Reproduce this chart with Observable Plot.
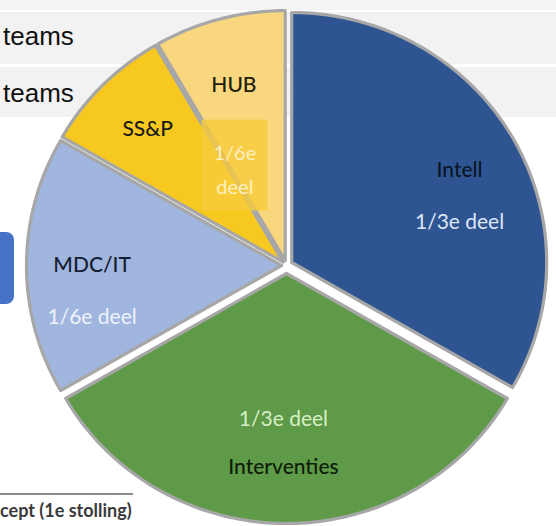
<!DOCTYPE html>
<html><head><meta charset="utf-8">
<script src="https://cdn.jsdelivr.net/npm/d3@7"></script>
<script src="https://cdn.jsdelivr.net/npm/@observablehq/plot@0.6"></script>
<style>
body{margin:0;background:#fff;}
#wrap{position:relative;width:556px;height:526px;overflow:hidden;}
.band{position:absolute;left:0;width:556px;background:#f2f2f2;}
.teams{position:absolute;left:3px;font:26px/26px "Liberation Sans",Arial,sans-serif;color:#111;}
#blue{position:absolute;left:-12px;top:232px;width:26px;height:72px;background:#4472c4;border-radius:8px;}
#rule{position:absolute;left:0;top:493px;width:133px;height:2px;background:#8c8c8c;}
#foot{position:absolute;left:0;top:500px;font:bold 18px/20px Lato,sans-serif;color:#3a3a3a;white-space:nowrap;}
#chart{position:absolute;left:0;top:0;}
</style></head><body><div id="wrap">
<div class="band" style="top:0;height:10px;background:#f4f4f4"></div>
<div class="band" style="top:12px;height:52px"></div>
<div class="band" style="top:67px;height:50px"></div>
<div class="teams" style="top:23px">teams</div>
<div class="teams" style="top:80px">teams</div>
<div id="blue"></div>
<div id="rule"></div>
<div id="foot">cept (1e stolling)</div>
<div id="chart"></div>
</div>
<script>
// ---- data ----
const categories = ["Intell", "Interventies", "MDC/IT", "SS&P", "HUB"];
const shares = [4, 4, 2, 1, 1]; // in twelfths: 1/3, 1/3, 1/6, 1/12, 1/12
const shareLabels = ["1/3e deel", "1/3e deel", "1/6e deel", null, null];
const groupLabelLines = ["1/6e", "deel"]; // SS&P + HUB together
const groupMembers = ["SS&P", "HUB"];

// ---- styles ----
const colors = ["#2e5592", "#5e9a48", "#a0b6df", "#f6c820", "#f9d77e"];
const nameColors = ["#0b1526", "#0e1d09", "#161e33", "#1a1a1a", "#221d0c"];
const shareColors = ["#dce6f6", "#d6efc6", "#eef2fa", null, null];
const shareFirst = [false, true, false, false, false];
const explode = [6, 8, 5, 5, 5];
const labelR = [0.71, 0.68, 0.75, 0.75, 0.73];
const labelNudge = [8, 1, -8, 0, -1];

const W = 556, H = 526, CX = 286, CY = 265, RX = 255, RY = 250;
const total = d3.sum(shares);
const rad = a => a * Math.PI / 180;

let acc = 0;
const slices = categories.map((name, i) => {
  const a0 = acc / total * 360;
  acc += shares[i];
  const a1 = acc / total * 360;
  const mid = (a0 + a1) / 2;
  const ox = explode[i] / RX * Math.sin(rad(mid));
  const oy = explode[i] / RY * Math.cos(rad(mid));
  const pts = [{x: ox, y: oy}];
  const n = Math.max(8, Math.round(a1 - a0));
  for (let k = 0; k <= n; k++) {
    const a = rad(a0 + (a1 - a0) * k / n);
    pts.push({x: ox + Math.sin(a), y: oy + Math.cos(a)});
  }
  pts.push({x: ox, y: oy});
  const la = rad(mid + labelNudge[i]);
  return {name, i, a0, a1, mid, pts, lx: ox + labelR[i] * Math.sin(la), ly: oy + labelR[i] * Math.cos(la)};
});

// group label for SS&P + HUB
const grp = slices.filter(s => groupMembers.includes(s.name));
const g0 = d3.min(grp, s => s.a0), g1 = d3.max(grp, s => s.a1);
const gmid = rad((g0 + g1) / 2 + 1);
const gx = 0.434 * Math.sin(gmid) + 2 / RX, gy = 0.434 * Math.cos(gmid) + 5 / RY;
const boxW = 66 / RX, boxH = 91 / RY;

const nameData = slices.map(s => ({
  x: s.lx, y: s.ly, text: s.name, fill: nameColors[s.i],
  dy: shareLabels[s.i] ? (shareFirst[s.i] ? 24 : -26) : 0
}));
const shareData = slices.filter(s => shareLabels[s.i]).map(s => ({
  x: s.lx, y: s.ly, text: shareLabels[s.i], fill: shareColors[s.i],
  dy: shareFirst[s.i] ? -24 : 26
}));

const marks = slices.map(s => Plot.line(s.pts, {
  x: "x", y: "y", fill: colors[s.i], stroke: "#a7a7a7", strokeWidth: 3.2,
  strokeLinejoin: "round", curve: "linear"
}));

marks.push(Plot.rect([{x1: gx - boxW / 2, x2: gx + boxW / 2, y1: gy - boxH / 2, y2: gy + boxH / 2}], {
  x1: "x1", x2: "x2", y1: "y1", y2: "y2", fill: "#f8cc3c", fillOpacity: 0.8
}));
marks.push(Plot.text([{x: gx, y: gy, t: groupLabelLines[0]}], {
  x: "x", y: "y", text: "t", dy: -12, fill: "#fdf0c2", fontSize: 20, fontFamily: "Lato, sans-serif"
}));
marks.push(Plot.text([{x: gx, y: gy, t: groupLabelLines[1]}], {
  x: "x", y: "y", text: "t", dy: 22, fill: "#fdf0c2", fontSize: 20, fontFamily: "Lato, sans-serif"
}));

for (const d of nameData) {
  marks.push(Plot.text([d], {
    x: "x", y: "y", text: "text", fill: d.fill, dy: d.dy, fontSize: 21,
    fontFamily: "Lato, sans-serif", fontWeight: 500
  }));
}
for (const d of shareData) {
  marks.push(Plot.text([d], {
    x: "x", y: "y", text: "text", fill: d.fill, dy: d.dy, fontSize: 21,
    fontFamily: "Lato, sans-serif"
  }));
}

const chart = Plot.plot({
  width: W, height: H,
  marginTop: 0, marginRight: 0, marginBottom: 0, marginLeft: 0,
  style: {background: "transparent", overflow: "visible"},
  x: {type: "linear", domain: [-CX / RX, (W - CX) / RX], range: [0, W], axis: null},
  y: {type: "linear", domain: [-(H - CY) / RY, CY / RY], range: [H, 0], axis: null},
  marks
});
document.getElementById("chart").append(chart);
</script>
</body></html>
